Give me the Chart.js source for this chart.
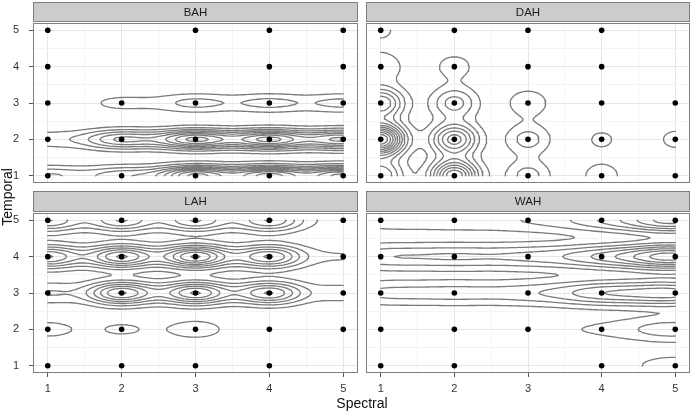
<!DOCTYPE html>
<html>
<head>
<meta charset="utf-8">
<script src="https://cdn.jsdelivr.net/npm/chart.js@4.4.1/dist/chart.umd.min.js"></script>
<style>
  body { margin: 0; background: #fff; font-family: "Liberation Sans", Arial, sans-serif; }
  #wrap { position: relative; width: 694px; height: 415px; overflow: hidden; }
  canvas { position: absolute; }
  .lab { position: absolute; font-size: 14px; line-height: 16px; color: #111; text-align: center; width: 100px; }
</style>
</head>
<body>
<div id="wrap">
  <canvas id="c0" width="362" height="187" style="left:0;top:0"></canvas>
  <canvas id="c1" width="332" height="187" style="left:362px;top:0"></canvas>
  <canvas id="c2" width="362" height="226" style="left:0;top:189px"></canvas>
  <canvas id="c3" width="332" height="226" style="left:362px;top:189px"></canvas>
  <div class="lab" style="left:312px;top:395px">Spectral</div>
  <div class="lab" style="left:-43px;top:189px;transform:rotate(-90deg)">Temporal</div>
</div>
<script>
// axes
const spectral = [1, 2, 3, 4, 5];
const temporal = [1, 2, 3, 4, 5];
const facets = ['BAH', 'DAH', 'LAH', 'WAH'];

// surface height at each grid point (rows = temporal 1..5, cols = spectral 1..5)
const bahZ = [
  [3, 3.5, 9, 9, 9],
  [1.5, 5, 8, 8, 7],
  [0, 1.3, 2.3, 2.3, 2.3],
  [0, 0, 0, 0, 0],
  [0, 0, 0, 0, 0]
];
const dahZ = [
  [5, 9, 2.5, 1.6, 0],
  [12, 6.5, 2.5, 1.2, 1.3],
  [6, 3.5, 1.8, 0, 0],
  [2, 1.5, 0, 0, 0],
  [1.2, 0, 0, 0, 0]
];
const lahZ = [
  [0, 0, 0, 0, 0],
  [1.4, 1.15, 1.6, 0, 0],
  [2, 7, 7, 6, 1.5],
  [6, 7, 8, 6, 1],
  [5, 5, 5, 5, 0.5]
];
const wahZ = [
  [0, 0, 0, 0, 1.5],
  [0.5, 0.5, 0.6, 0.8, 2.5],
  [2, 2, 2, 4, 5],
  [2.5, 2.5, 2.5, 4, 8],
  [1.3, 1.3, 1.5, 3, 7]
];

// which observations exist (same layout)
const bahObs = [[1,1,1,1,1],[1,1,1,1,1],[1,1,1,1,1],[1,0,0,1,1],[1,0,1,1,1]];
const dahObs = [[1,1,1,1,1],[1,1,1,1,1],[1,1,1,1,1],[1,1,1,1,0],[1,1,1,1,0]];
const lahObs = [[1,1,1,1,0],[1,1,1,1,1],[1,1,1,1,1],[1,1,1,1,1],[1,1,1,1,1]];
const wahObs = [[1,1,0,1,1],[1,1,1,1,1],[1,1,1,1,1],[1,1,1,1,1],[1,1,1,1,1]];

// smoothing bandwidth (spectral, temporal)
const bandwidth = [[0.38, 0.19], [0.22, 0.3], [0.33, 0.22], [0.5, 0.25]];

const zs = [bahZ, dahZ, lahZ, wahZ];
const obs = [bahObs, dahObs, lahObs, wahObs];

function surface(z, bw, x, y) {
  let s = 0;
  for (let j = 0; j < temporal.length; j++) {
    for (let i = 0; i < spectral.length; i++) {
      if (!z[j][i]) continue;
      const dx = (x - spectral[i]) / bw[0], dy = (y - temporal[j]) / bw[1];
      s += z[j][i] * Math.exp(-0.5 * (dx * dx + dy * dy));
    }
  }
  return s;
}

// marching squares, chained into polylines, gaps as y:null
function contourLines(z, bw) {
  const n = 100, lo = 1, hi = 5, h = (hi - lo) / n;
  const g = [];
  let top = 0;
  for (let j = 0; j <= n; j++) {
    g.push([]);
    for (let i = 0; i <= n; i++) {
      const v = surface(z, bw, lo + i * h, lo + j * h);
      g[j].push(v);
      top = Math.max(top, v);
    }
  }
  const out = [];
  for (let lv = 1; lv < top; lv++) {
    const segs = [];
    const cross = (key, x0, y0, v0, x1, y1, v1) => {
      const t = (lv - v0) / (v1 - v0);
      return { key, x: x0 + t * (x1 - x0), y: y0 + t * (y1 - y0) };
    };
    for (let j = 0; j < n; j++) {
      for (let i = 0; i < n; i++) {
        const a = g[j][i], b = g[j][i + 1], c = g[j + 1][i + 1], d = g[j + 1][i];
        const x0 = lo + i * h, x1 = x0 + h, y0 = lo + j * h, y1 = y0 + h;
        const p = [];
        if ((a >= lv) !== (b >= lv)) p.push(cross('h' + i + ',' + j, x0, y0, a, x1, y0, b));
        if ((b >= lv) !== (c >= lv)) p.push(cross('v' + (i + 1) + ',' + j, x1, y0, b, x1, y1, c));
        if ((c >= lv) !== (d >= lv)) p.push(cross('h' + i + ',' + (j + 1), x1, y1, c, x0, y1, d));
        if ((d >= lv) !== (a >= lv)) p.push(cross('v' + i + ',' + j, x0, y1, d, x0, y0, a));
        if (p.length === 2) segs.push([p[0], p[1]]);
        else if (p.length === 4) {
          const mid = (a + b + c + d) / 4 >= lv;
          if ((a >= lv) === mid) { segs.push([p[0], p[1]]); segs.push([p[2], p[3]]); }
          else { segs.push([p[3], p[0]]); segs.push([p[1], p[2]]); }
        }
      }
    }
    const adj = new Map();
    segs.forEach((s, k) => s.forEach(q => {
      if (!adj.has(q.key)) adj.set(q.key, []);
      adj.get(q.key).push(k);
    }));
    const used = new Array(segs.length).fill(false);
    const walk = (end, add) => {
      for (;;) {
        const k = adj.get(end.key).find(m => !used[m]);
        if (k === undefined) return;
        used[k] = true;
        const s = segs[k];
        end = s[0].key === end.key ? s[1] : s[0];
        add(end);
      }
    };
    for (let k = 0; k < segs.length; k++) {
      if (used[k]) continue;
      used[k] = true;
      const line = [segs[k][0], segs[k][1]];
      walk(segs[k][1], q => line.push(q));
      walk(segs[k][0], q => line.unshift(q));
      line.forEach(q => out.push({ x: q.x, y: q.y }));
      out.push({ x: line[0].x, y: null });
    }
  }
  return out;
}

function observed(o) {
  const pts = [];
  temporal.forEach((t, j) => spectral.forEach((s, i) => { if (o[j][i]) pts.push({ x: s, y: t }); }));
  return pts;
}

const ticksAt = [];
spectral.forEach((v, i) => { ticksAt.push(v); if (i < spectral.length - 1) ticksAt.push(v + 0.5); });
const isMajor = c => c.tick && Number.isInteger(c.tick.value);

function axis(showLabels, size, isX) {
  return {
    type: 'linear', min: 0.8, max: 5.2,
    afterBuildTicks: s => { s.ticks = ticksAt.map(v => ({ value: v })); },
    afterFit: s => {
      if (isX) { s.height = size; s.paddingLeft = 0; s.paddingRight = 0; }
      else { s.width = size; s.paddingTop = 0; s.paddingBottom = 0; }
    },
    border: { display: false },
    grid: {
      color: c => isMajor(c) ? '#e6e6e6' : '#f4f4f4',
      lineWidth: 1,
      drawTicks: showLabels,
      tickLength: 4,
      tickColor: c => isMajor(c) ? '#555' : 'rgba(0,0,0,0)'
    },
    ticks: {
      display: showLabels, autoSkip: false, maxRotation: 0,
      padding: isX ? 5 : 10, color: '#333',
      font: { size: 11, family: 'Liberation Sans' },
      callback: v => Number.isInteger(v) ? String(v) : ''
    }
  };
}

const facetPlugin = {
  id: 'facet',
  afterDatasetsDraw(chart, args, o) {
    const { ctx, chartArea: a } = chart;
    ctx.save();
    ctx.strokeStyle = '#7f7f7f';
    ctx.lineWidth = 1;
    ctx.strokeRect(a.left + 0.5, a.top + 0.5, a.width - 1, a.height - 1);
    ctx.fillStyle = '#cccccc';
    ctx.fillRect(a.left, 2, a.width, a.top - 3);
    ctx.strokeRect(a.left + 0.5, 2.5, a.width - 1, a.top - 4);
    ctx.fillStyle = '#1a1a1a';
    ctx.font = '11.5px "Liberation Sans"';
    ctx.textAlign = 'center';
    ctx.textBaseline = 'middle';
    ctx.fillText(o.title, (a.left + a.right) / 2, (a.top + 2) / 2);
    ctx.restore();
  }
};

const layouts = [
  { pad: { top: 23, right: 2, bottom: 2, left: 0 }, xl: false, yl: true, xs: 0, ys: 33 },
  { pad: { top: 23, right: 2, bottom: 2, left: 3 }, xl: false, yl: false, xs: 0, ys: 0 },
  { pad: { top: 24, right: 2, bottom: 0, left: 0 }, xl: true, yl: true, xs: 42, ys: 33 },
  { pad: { top: 24, right: 2, bottom: 0, left: 3 }, xl: true, yl: false, xs: 42, ys: 0 }
];

facets.forEach((name, k) => {
  const L = layouts[k];
  new Chart(document.getElementById('c' + k), {
    type: 'scatter',
    data: {
      datasets: [
        {
          data: observed(obs[k]),
          pointRadius: 2.8, pointBackgroundColor: '#000', pointBorderWidth: 0
        },
        {
          data: contourLines(zs[k], bandwidth[k]),
          showLine: true, spanGaps: false, pointRadius: 0,
          borderColor: '#7a7a7a', borderWidth: 1.3,
          borderCapStyle: 'round', borderJoinStyle: 'round'
        }
      ]
    },
    options: {
      responsive: false, animation: false, events: [],
      layout: { padding: L.pad },
      plugins: { legend: { display: false }, tooltip: { enabled: false }, facet: { title: name } },
      scales: { x: axis(L.xl, L.xs, true), y: axis(L.yl, L.ys, false) }
    },
    plugins: [facetPlugin]
  });
});
</script>
</body>
</html>
